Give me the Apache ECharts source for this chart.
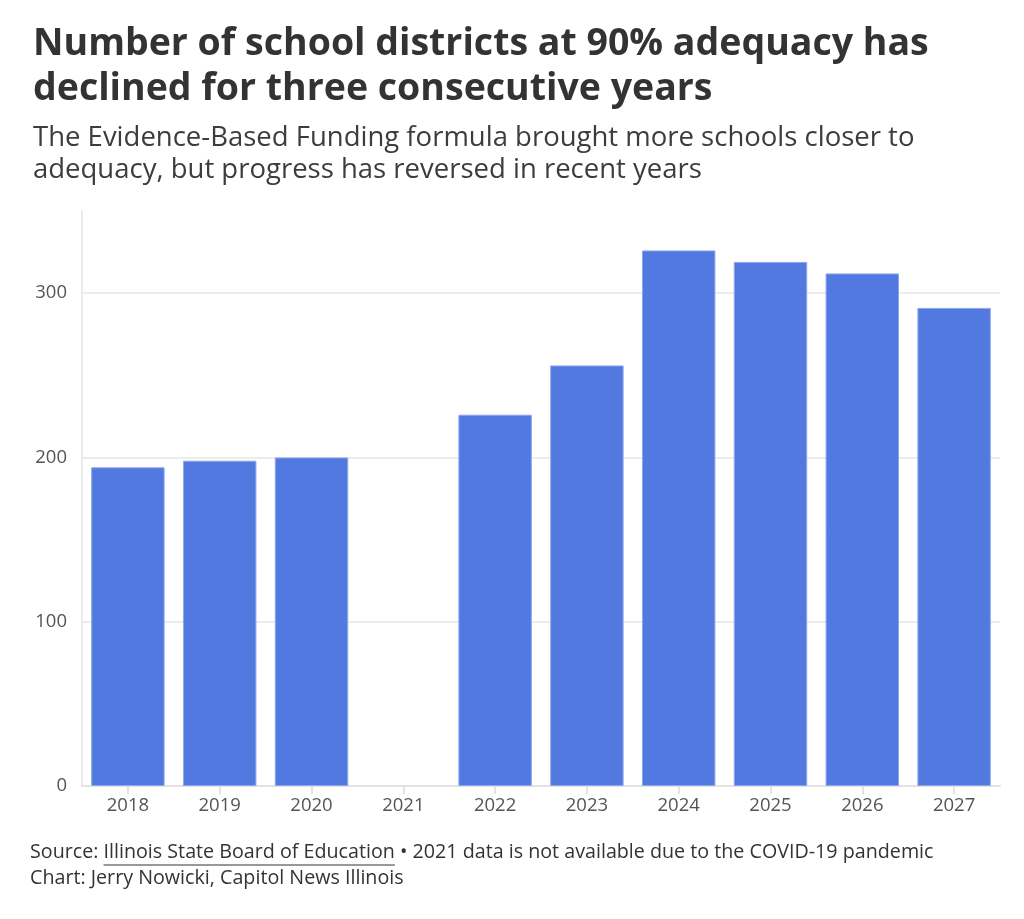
<!DOCTYPE html>
<html>
<head>
<meta charset="utf-8">
<script src="https://cdn.jsdelivr.net/npm/echarts@6/dist/echarts.min.js"></script>
<style>
  html, body { margin: 0; padding: 0; background: #fff; }
  #chart { width: 1024px; height: 919px; }
</style>
</head>
<body>
<div id="chart"></div>
<script>
// data
var years = ['2018', '2019', '2020', '2021', '2022', '2023', '2024', '2025', '2026', '2027'];
var districts = [194, 198, 200, null, 226, 256, 326, 319, 312, 291];
var yTicks = [0, 100, 200, 300];

var titleText = 'Number of school districts at 90% adequacy has\ndeclined for three consecutive years';
var subText = 'The Evidence-Based Funding formula brought more schools closer to\nadequacy, but progress has reversed in recent years';
var srcLead = 'Source: ';
var srcLink = 'Illinois State Board of Education';
var srcTail = ' \u2022 2021 data is not available due to the COVID-19 pandemic';
var creditText = 'Chart: Jerry Nowicki, Capitol News Illinois';

var FONT = '"Open Sans", Roboto, sans-serif';
var FOOT_FONT = '19.7px ' + FONT;

// measure link text so the underline sits under it
var ctx = document.createElement('canvas').getContext('2d');
ctx.font = FOOT_FONT;
var leadW = ctx.measureText(srcLead).width;
var linkW = ctx.measureText(srcLink).width;

var myChart = echarts.init(document.getElementById('chart'), null, { renderer: 'canvas' });

var option = {
    backgroundColor: '#ffffff',
    animation: false,
    title: [
        {
            text: titleText,
            left: 28,
            top: 17,
            textStyle: { fontFamily: FONT, fontSize: 37.5, fontWeight: 'bold', color: '#333333', lineHeight: 45 }
        },
        {
            text: subText,
            left: 28,
            top: 117,
            textStyle: { fontFamily: FONT, fontSize: 27.5, fontWeight: 'normal', color: '#3d3d3d', lineHeight: 32 }
        }
    ],
    grid: { left: 82, right: 24, top: 211, bottom: 133 },
    xAxis: {
        type: 'category',
        data: years,
        axisLine: { show: true, lineStyle: { color: '#e3e3e3', width: 2 } },
        axisTick: { show: true, alignWithLabel: true, length: 8, lineStyle: { color: '#e3e3e3', width: 2 } },
        axisLabel: { fontFamily: FONT, fontSize: 18.5, color: '#555555', margin: 10 }
    },
    yAxis: {
        type: 'value',
        min: 0,
        max: 350,
        interval: 100,
        axisLine: { show: true, lineStyle: { color: '#ececec', width: 2 } },
        axisTick: { show: false },
        axisLabel: {
            fontFamily: FONT, fontSize: 18.5, color: '#555555', margin: 15,
            formatter: function (v) { return yTicks.indexOf(v) >= 0 ? String(v) : ''; }
        },
        splitLine: {
            show: true,
            lineStyle: { color: ['#ececec', '#ececec', '#ececec', '#ececec', 'rgba(0,0,0,0)'], width: 2 }
        }
    },
    series: [
        {
            name: 'Districts at 90% adequacy',
            type: 'bar',
            data: districts,
            barCategoryGap: '20%',
            itemStyle: { color: '#5279e0', borderColor: '#8ea7ec', borderWidth: 1 }
        }
    ],
    graphic: [
        {
            type: 'text',
            left: 30,
            top: 842,
            style: {
                text: srcLead + srcLink + srcTail,
                font: FOOT_FONT,
                fill: '#333333'
            }
        },
        {
            type: 'line',
            shape: { x1: 30 + leadW, y1: 865, x2: 30 + leadW + linkW, y2: 865 },
            style: { stroke: '#333333', lineWidth: 1 }
        },
        {
            type: 'text',
            left: 30,
            top: 868,
            style: {
                text: creditText,
                font: FOOT_FONT,
                fill: '#333333'
            }
        }
    ]
};

myChart.setOption(option);
</script>
</body>
</html>
